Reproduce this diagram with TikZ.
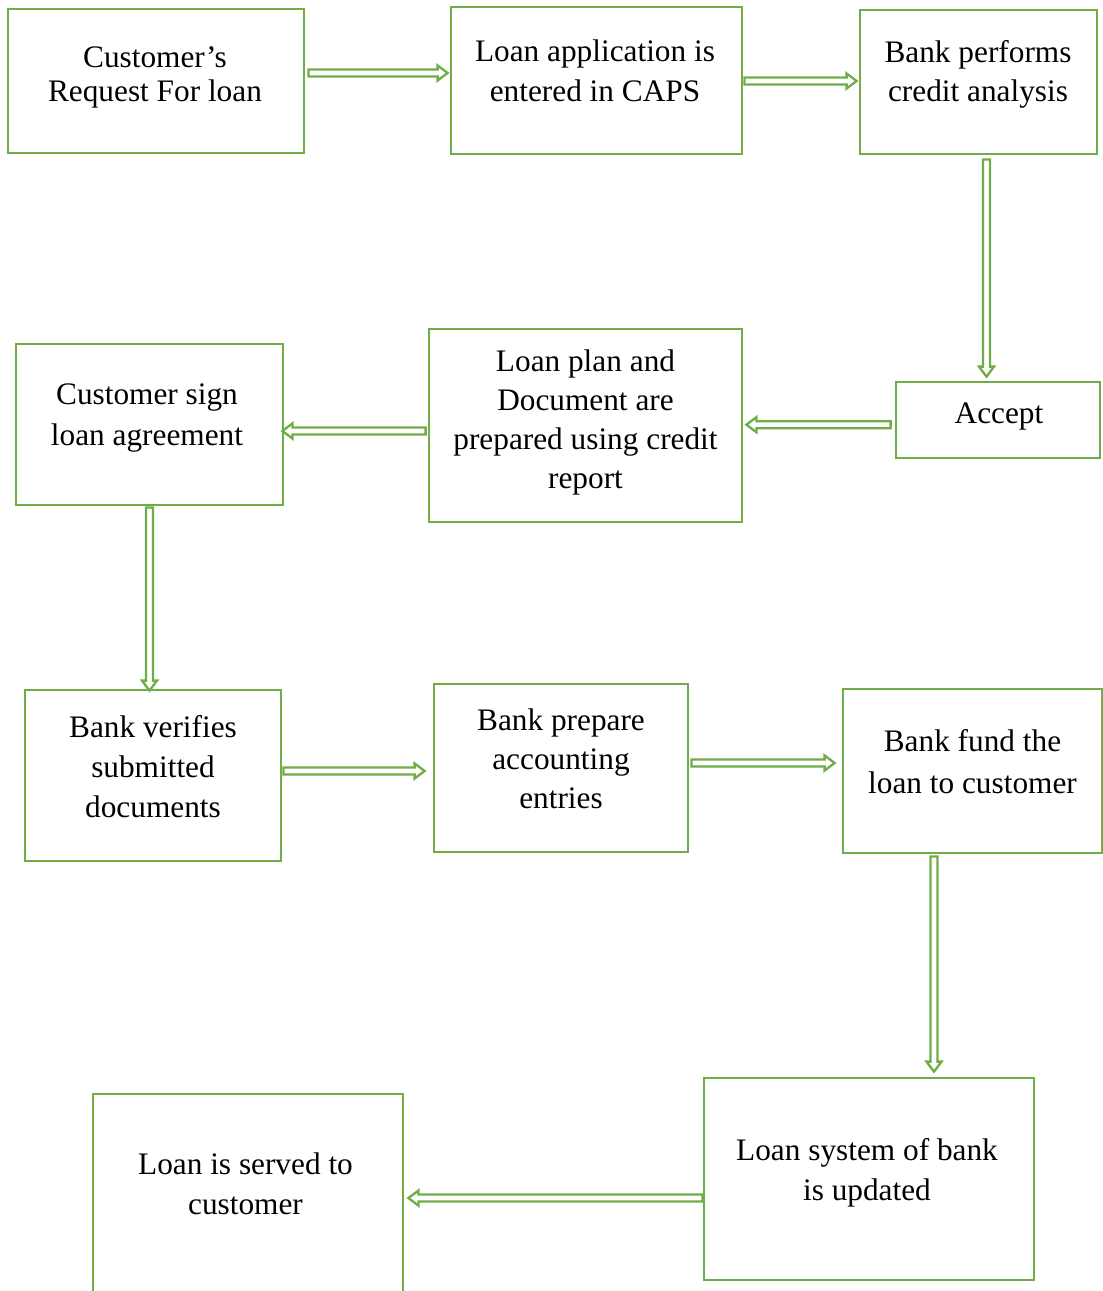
\documentclass[tikz,border=0pt]{standalone}
\usepackage{fontspec}
\setmainfont{Liberation Serif}
\usetikzlibrary{calc}
\definecolor{flowgreen}{HTML}{70AD47}

\begin{document}
\begin{tikzpicture}[x=1pt,y=-1pt,
  stepbox/.style={draw=flowgreen,line width=2.8pt,inner sep=0pt},
  steptext/.style={anchor=north,inner sep=0pt,align=center,font=\fontsize{31.3pt}{#1}\selectfont},
  steptext/.default=40pt,
  flowarrow/.style={draw=flowgreen,line width=2.3pt,line join=miter,
    to path={let \p1=(\tikztostart), \p2=(\tikztotarget) in
      ($(\p1)!3.5pt!90:(\p2)$) -- ($(\p2)!10pt!(\p1)!3.5pt!-90:(\p1)$)
      -- ($(\p2)!10pt!(\p1)!7.5pt!-90:(\p1)$) -- (\p2)
      -- ($(\p2)!10pt!(\p1)!7.5pt!90:(\p1)$) -- ($(\p2)!10pt!(\p1)!3.5pt!90:(\p1)$)
      -- ($(\p1)!3.5pt!-90:(\p2)$) -- cycle}}]
\clip (0,0) rectangle (1103,1291);
% boxes
\node [stepbox,minimum width=296pt,minimum height=144pt] (request) at (156,81) {};
\node [stepbox,minimum width=291pt,minimum height=147pt] (caps) at (596.5,80.5) {};
\node [stepbox,minimum width=237pt,minimum height=144pt] (analysis) at (978.5,82) {};
\node [stepbox,minimum width=204pt,minimum height=76pt] (accept) at (998,420) {};
\node [stepbox,minimum width=313pt,minimum height=193pt] (plan) at (585.5,425.5) {};
\node [stepbox,minimum width=267pt,minimum height=161pt] (sign) at (149.5,424.5) {};
\node [stepbox,minimum width=256pt,minimum height=171pt] (verify) at (153,775.5) {};
\node [stepbox,minimum width=254pt,minimum height=168pt] (prepare) at (561,768) {};
\node [stepbox,minimum width=259pt,minimum height=164pt] (fund) at (972.5,771) {};
\node [stepbox,minimum width=330pt,minimum height=202pt] (system) at (869,1179) {};
\node [stepbox,minimum width=310pt,minimum height=246pt] (served) at (248,1217) {};
% texts
\node [steptext=34pt] (requesttext) at (155,46) {Customer’s\\Request For loan};
\node [steptext] (capstext) at (595,39.7) {Loan application is\\entered in CAPS};
\node [steptext=39pt] (analysistext) at (978,40.7) {Bank performs\\credit analysis};
\node [steptext] (accepttext) at (999,402.5) {Accept};
\node [steptext=39pt] (plantext) at (585.5,349.5) {Loan plan and\\Document are\\prepared using credit\\report};
\node [steptext=41pt] (signtext) at (147,384) {Customer sign\\loan agreement};
\node [steptext] (verifytext) at (153,715.4) {Bank verifies\\submitted\\documents};
\node [steptext=39pt] (preparetext) at (561,708.7) {Bank prepare\\accounting\\entries};
\node [steptext=42pt] (fundtext) at (972.5,729.7) {Bank fund the\\loan to customer};
\node [steptext] (systemtext) at (867,1138.7) {Loan system of bank\\is updated};
\node [steptext] (servedtext) at (245.5,1152.5) {Loan is served to\\customer};
% arrows
\draw [flowarrow] ([shift={(3,-8)}]request.east) to ([shift={(-2,-7.5)}]caps.west);
\draw [flowarrow] ([shift={(1,0.5)}]caps.east) to ([shift={(-2,-1)}]analysis.west);
\draw [flowarrow] ([shift={(8,4)}]analysis.south) to ([shift={(-11.5,-4)}]accept.north);
\draw [flowarrow] ([shift={(-4,4.7)}]accept.west) to ([shift={(3,-0.8)}]plan.east);
\draw [flowarrow] ([shift={(-2,5.5)}]plan.west) to ([shift={(-2,6.5)}]sign.east);
\draw [flowarrow] ([shift={(0,1)}]sign.south) to ([shift={(-3.5,2)}]verify.north);
\draw [flowarrow] ([shift={(1,-4.5)}]verify.east) to ([shift={(-8,3)}]prepare.west);
\draw [flowarrow] ([shift={(2,-5)}]prepare.east) to ([shift={(-7,-8)}]fund.west);
\draw [flowarrow] ([shift={(-38.5,2)}]fund.south) to ([shift={(65,-5)}]system.north);
\draw [flowarrow] ([shift={(0,19)}]system.west) to ([shift={(4,-19)}]served.east);
\end{tikzpicture}
\end{document}
